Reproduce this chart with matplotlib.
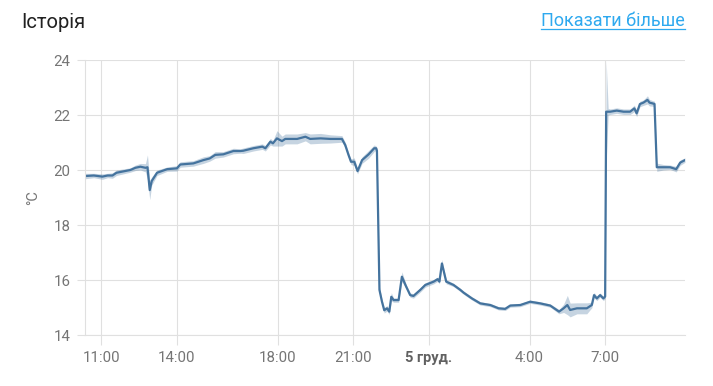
import matplotlib
matplotlib.use('Agg')
import matplotlib.pyplot as plt
from matplotlib.lines import Line2D
import numpy as np

plt.rcParams['font.family'] = ['Roboto', 'DejaVu Sans']

# hours since midnight 4 Dec (24 = midnight 5 Dec)
hours = [10.34, 10.70, 11.04, 11.25, 11.44, 11.60, 12.15, 12.35, 12.55, 12.75,
         12.83, 12.92, 13.00, 13.21, 13.61, 14.00, 14.13, 14.65, 15.05, 15.30,
         15.52, 15.84, 16.24, 16.52, 16.63, 17.03, 17.39, 17.51, 17.71, 17.81,
         17.97, 18.17, 18.30, 18.77, 19.10, 19.29, 19.70, 20.09, 20.55, 20.68,
         20.81, 20.91, 21.04, 21.17, 21.35, 21.61, 21.83, 21.91, 21.94, 22.04,
         22.14, 22.23, 22.34, 22.43, 22.51, 22.60, 22.80, 22.93, 23.10, 23.26,
         23.39, 23.66, 23.86, 24.19, 24.35, 24.42, 24.52, 24.69, 24.98, 25.25,
         25.38, 25.71, 26.04, 26.44, 26.77, 27.03, 27.23, 27.63, 28.02, 28.42,
         28.82, 29.17, 29.35, 29.50, 29.61, 29.88, 30.27, 30.47, 30.56, 30.67,
         30.80, 30.93, 31.00, 31.04, 31.12, 31.20, 31.46, 31.73, 31.99, 32.16,
         32.25, 32.38, 32.52, 32.68, 32.76, 32.89, 32.96, 33.05, 33.31, 33.58,
         33.82, 33.98, 34.17]
temps = [19.78, 19.80, 19.76, 19.80, 19.80, 19.90, 20.00, 20.08, 20.12, 20.08,
         20.10, 19.27, 19.60, 19.90, 20.03, 20.06, 20.20, 20.24, 20.36, 20.42,
         20.55, 20.57, 20.69, 20.69, 20.70, 20.79, 20.85, 20.79, 21.03, 20.97,
         21.15, 21.05, 21.13, 21.13, 21.21, 21.13, 21.15, 21.13, 21.13, 20.91,
         20.55, 20.30, 20.30, 19.96, 20.36, 20.57, 20.79, 20.79, 20.70, 15.64,
         15.21, 14.90, 14.97, 14.85, 15.39, 15.27, 15.27, 16.12, 15.76, 15.45,
         15.42, 15.64, 15.82, 15.94, 16.03, 15.94, 16.60, 15.94, 15.82, 15.64,
         15.54, 15.33, 15.15, 15.09, 14.97, 14.95, 15.07, 15.09, 15.21, 15.15,
         15.07, 14.85, 14.97, 15.09, 14.91, 14.97, 14.97, 15.09, 15.45, 15.33,
         15.45, 15.33, 15.40, 22.12, 22.12, 22.12, 22.16, 22.12, 22.12, 22.24,
         22.06, 22.40, 22.45, 22.55, 22.45, 22.42, 22.40, 20.10, 20.10, 20.10,
         20.03, 20.27, 20.36]
# half width of the min/max band
spread = [0.10, 0.08, 0.10, 0.08, 0.10, 0.10, 0.08, 0.10, 0.12, 0.15,
          0.45, 0.35, 0.15, 0.10, 0.08, 0.10, 0.10, 0.10, 0.12, 0.10,
          0.12, 0.10, 0.10, 0.08, 0.10, 0.10, 0.10, 0.10, 0.12, 0.10,
          0.28, 0.18, 0.18, 0.18, 0.15, 0.18, 0.18, 0.15, 0.12, 0.10,
          0.10, 0.10, 0.14, 0.10, 0.12, 0.14, 0.12, 0.08, 0.08, 0.10,
          0.10, 0.10, 0.10, 0.10, 0.15, 0.08, 0.08, 0.18, 0.08, 0.08,
          0.08, 0.08, 0.08, 0.08, 0.08, 0.08, 0.15, 0.08, 0.06, 0.06,
          0.06, 0.06, 0.06, 0.06, 0.06, 0.06, 0.06, 0.06, 0.06, 0.06,
          0.06, 0.08, 0.15, 0.35, 0.25, 0.20, 0.20, 0.10, 0.10, 0.08,
          0.08, 0.08, 0.08, 1.85, 0.12, 0.10, 0.10, 0.10, 0.10, 0.12,
          0.12, 0.10, 0.10, 0.15, 0.12, 0.10, 0.10, 0.15, 0.10, 0.08,
          0.10, 0.10, 0.08]

tick_hours = [11, 14, 18, 21, 24, 28, 31]
tick_labels = ['11:00', '14:00', '18:00', '21:00', '5 груд.', '4:00', '7:00']
y_ticks = [14, 16, 18, 20, 22, 24]

line_color = '#44739e'
grid_color = '#e0e0e0'
label_color = '#757575'

W, H = 713, 386
fig = plt.figure(figsize=(W / 100, H / 100), dpi=100)
ax = fig.add_axes([84.5 / W, (H - 335) / H, 600.5 / W, 275 / H])

t = np.array(hours)
v = np.array(temps)
s = np.array(spread)
ax.fill_between(t, v - s, v + s, color=line_color, alpha=0.3, linewidth=0)
ax.plot(t, v, color=line_color, linewidth=1.6, solid_joinstyle='round')

ax.set_xlim(10.33, 34.17)
ax.set_ylim(14, 24)
ax.set_xticks(tick_hours)
ax.set_xticklabels(tick_labels)
ax.set_yticks(y_ticks)

ax.grid(color=grid_color, linewidth=0.8)
ax.set_axisbelow(True)
for side in ['top', 'right']:
    ax.spines[side].set_visible(False)
for side in ['left', 'bottom']:
    ax.spines[side].set_color(grid_color)
    ax.spines[side].set_linewidth(0.8)

ax.tick_params(axis='y', length=6, width=0.8, color=grid_color,
               labelcolor=label_color, labelsize=10.8, pad=4)
ax.tick_params(axis='x', length=7.2, width=0.8, color=grid_color,
               labelcolor=label_color, labelsize=10.8, pad=4)
bold = ax.get_xticklabels()[4]
bold.set_fontweight('bold')
bold.set_color('#616161')
bold.set_fontsize(10.5)

fig.text(33 / W, 1 - 197.5 / H, '°C', rotation=90, ha='center', va='center',
         color=label_color, fontsize=10.5)

fig.text(21 / W, 1 - 27.5 / H, 'Історія', ha='left', va='baseline',
         color='#212121', fontsize=14.5)
link = fig.text(685 / W, 1 - 25.5 / H, 'Показати більше', ha='right',
                va='baseline', color='#2ea9ef', fontsize=13)

# underline the link
fig.canvas.draw()
bb = link.get_window_extent()
uy = 1 - 28.5 / H
fig.add_artist(Line2D([bb.x0 / W, bb.x1 / W], [uy, uy], color='#2ea9ef',
                      linewidth=0.9, transform=fig.transFigure))

fig.savefig('out.png', dpi=100, facecolor='white')
